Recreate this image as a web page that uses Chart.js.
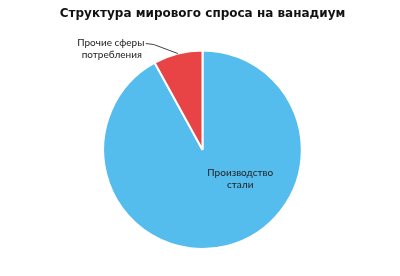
<!DOCTYPE html>
<html>
<head>
<meta charset="utf-8">
<script src="https://cdn.jsdelivr.net/npm/chart.js@4/dist/chart.umd.min.js"></script>
<style>
  html, body { margin: 0; padding: 0; background: #fff; }
  #wrap { width: 400px; height: 276px; }
</style>
</head>
<body>
<div id="wrap"><canvas id="canvas"></canvas></div>
<script>
const categories = ['Производство стали', 'Прочие сферы потребления'];
const shares = [92, 8];
const colors = ['#55bcee', '#e84445'];

// подписи секторов: строки текста для каждой категории
const labelLines = [['Производство', 'стали'], ['Прочие сферы', 'потребления']];

const sliceLabels = {
    id: 'sliceLabels',
    afterDatasetsDraw(chart) {
        const ctx = chart.ctx;
        const arcs = chart.getDatasetMeta(0).data;
        ctx.save();
        ctx.font = '10px Lato';
        ctx.fillStyle = '#222';
        ctx.textAlign = 'center';
        ctx.textBaseline = 'middle';

        // сталь - подпись внутри сектора
        const a = arcs[0];
        const r = a.outerRadius;
        const x0 = a.x + r * 0.38;
        const y0 = a.y + r * 0.23;
        ctx.fillText(labelLines[0][0], x0, y0);
        ctx.fillText(labelLines[0][1], x0, y0 + 12.5);

        // прочие - выноска
        const b = arcs[1];
        const mid = (b.startAngle + b.endAngle) / 2;
        const px = b.x + Math.cos(mid) * b.outerRadius;
        const py = b.y + Math.sin(mid) * b.outerRadius;
        const ex = px - 24, ey = py - 9;
        ctx.strokeStyle = '#444';
        ctx.lineWidth = 1;
        ctx.beginPath();
        ctx.moveTo(px, py);
        ctx.lineTo(ex, ey);
        ctx.lineTo(ex - 8, ey - 1);
        ctx.stroke();
        const tx = ex - 43;
        ctx.fillText(labelLines[1][0], tx, ey - 2);
        ctx.fillText(labelLines[1][1], tx + 1, ey + 10.5);
        ctx.restore();
    }
};

new Chart(document.getElementById('canvas').getContext('2d'), {
    type: 'pie',
    data: {
        labels: categories,
        datasets: [{
            data: shares,
            backgroundColor: colors,
            borderColor: '#ffffff',
            borderWidth: 2
        }]
    },
    options: {
        responsive: true,
        maintainAspectRatio: false,
        animation: false,
        layout: {
            padding: { top: 0, bottom: 26, left: 5, right: 0 }
        },
        plugins: {
            legend: { display: false },
            tooltip: { enabled: false },
            title: {
                display: true,
                text: 'Структура мирового спроса на ванадиум',
                color: '#111',
                font: { family: '"DejaVu Sans"', size: 12, weight: 'bold' },
                padding: { top: 7, bottom: 28 }
            }
        }
    },
    plugins: [sliceLabels]
});
</script>
</body>
</html>
